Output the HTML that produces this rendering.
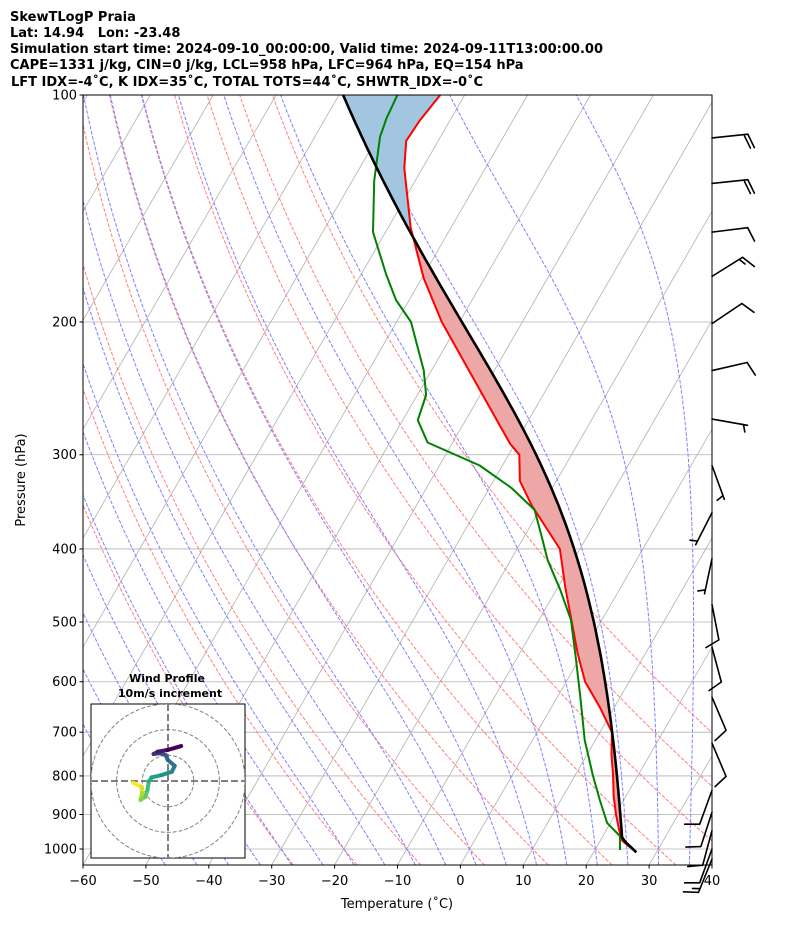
<!DOCTYPE html>
<html><head><meta charset="utf-8"><style>
body{margin:0;background:#fff;}
svg{display:block;font-family:"DejaVu Sans","Liberation Sans",sans-serif;}
.t{font-weight:bold;font-size:13px;white-space:pre;}
</style></head><body>
<svg id="c" width="794" height="937" viewBox="0 0 794 937" xmlns="http://www.w3.org/2000/svg">
<rect width="794" height="937" fill="#fff"/>
<g>
<text class="t" x="10" y="21">SkewTLogP Praia</text>
<text class="t" x="10" y="37">Lat: 14.94&#160;&#160;&#160;Lon: -23.48</text>
<text class="t" x="10" y="53">Simulation start time: 2024-09-10_00:00:00, Valid time: 2024-09-11T13:00:00.00</text>
<text class="t" x="10" y="69">CAPE=1331 j/kg, CIN=0 j/kg, LCL=958 hPa, LFC=964 hPa, EQ=154 hPa</text>
<text class="t" x="11" y="86">LFT IDX=-4˚C, K IDX=35˚C, TOTAL TOTS=44˚C, SHWTR_IDX=-0˚C</text>
</g>
<defs><clipPath id="pc"><rect x="83" y="95" width="629" height="770"/></clipPath>
<clipPath id="hc"><rect x="91" y="704" width="154" height="154"/></clipPath></defs>
<g id="grid" clip-path="url(#pc)"></g>
<g id="axes"></g>
<g id="barbs"></g>
<g id="hodo"></g>
<text x="25" y="480" font-size="13" text-anchor="middle" transform="rotate(-90 25 480)">Pressure (hPa)</text>
<text x="397" y="908" font-size="13" text-anchor="middle">Temperature (˚C)</text>
</svg>
<script>
// ---- data ----
const tempP = [1010,975,950,900,850,800,750,700,650,600,550,500,450,400,350,325,300,290,250,200,175,150,125,115,108,100];
const tempT = [26.8,23.5,22.3,20.1,18.0,16.1,13.9,11.9,7.8,3.0,-0.8,-4.6,-8.8,-13.2,-21.7,-25.8,-28.3,-30.8,-39.6,-52.8,-59.7,-66.4,-72.9,-75.1,-74.8,-73.9];
const dewP = [1003,961,924,861,798,717,635,562,497,453,414,389,355,332,310,289,270,250,232,200,187,173,152,130,113.7,107.3,100];
const dewT = [24.0,22.7,19.5,16.2,12.8,8.3,4.0,-0.4,-4.9,-9.4,-14.1,-16.8,-20.8,-26.5,-33.6,-44.0,-47.6,-48.6,-51.2,-57.7,-62.1,-66.0,-72.0,-76.5,-79.6,-80.3,-80.7];
const pressureTicks = [100,200,300,400,500,600,700,800,900,1000];
const tempTicks = [-60,-50,-40,-30,-20,-10,0,10,20,30,40];
const dryT0 = [-30,-20,-10,0,10,20,30,40,50,60];
const moistT0 = [-50,-45,-40,-35,-30,-25,-20,-15,-10,-5,0,5,10,15,20,25,30,35,40,45];
const barbP = [114,131,152,174,201,232,269,310,358,412,474,540,629,724,836,894,945,1000,1031];
const barbAng = [-6,-6,-7,-32,-34,-13,10,70,117,102,79,75,67,67,110,108,105,110,112];
const barbSpd = [20,20,10,15,10,10,5,5,5,5,10,10,10,10,10,10,10,10,15];
const hodoU = [-13.6,-10.4,-10.1,-10.7,-8.8,-8.0,-7.5,-6.4,-2.5,1.5,2.6,-0.1,-0.9,-3.3,-5.6,-4.0,-0.1,5.1];
const hodoV = [-0.7,-2.2,-4.7,-7.4,-6.1,-3.5,-0.3,1.4,2.3,3.6,5.9,8.2,10.1,10.8,10.5,11.4,12.1,13.6];

// ---- axes ----
const X0=83,X1=712,Y0=95,Y1=865,PX=6.29,SK=0.5774,DEC=754;
function Y(p){return Y0+DEC*Math.log10(p/100);}
function X(T,p){return X0+(T+60)*PX+SK*(Y1-Y(p));}
const NS='http://www.w3.org/2000/svg';
function mk(tag,attrs,parent){const e=document.createElementNS(NS,tag);for(const k in attrs)e.setAttribute(k,attrs[k]);parent.appendChild(e);return e;}
const grid=document.getElementById('grid'),axes=document.getElementById('axes');
function pts(arr){return arr.map(a=>a[0].toFixed(1)+','+a[1].toFixed(1)).join(' ');}
const pGrid=[];for(let lp=Math.log(1050);lp>=Math.log(100)-1e-9;lp-=(Math.log(1050)-Math.log(100))/120)pGrid.push(Math.exp(lp));

for(let T=-160;T<=40;T+=10){
  const l=mk('line',{x1:X(T,1050),y1:Y(1050),x2:X(T,100),y2:Y(100),stroke:'#b0b0b0','stroke-width':0.8},grid);
  
  
}
for(const p of pressureTicks){
  const l=mk('line',{x1:X0,y1:Y(p),x2:X1,y2:Y(p),stroke:'#b0b0b0','stroke-width':0.8},grid);
  
  
}
for(const t0 of dryT0){
  const th=t0+273.15;
  const a=pGrid.map(p=>[X(th*Math.pow(p/1000,0.2857)-273.15,p),Y(p)]);
  const l=mk('polyline',{points:pts(a),fill:'none',stroke:'#ff8080','stroke-width':1,'stroke-dasharray':'3.7,1.6'},grid);
  
  
}
const Rd=287.04,Cp=1005.7,Lv=2.501e6,EPS=0.622;
function dTdlnp(T,p){const es=6.112*Math.exp(17.67*(T-273.15)/(T-29.65));const rs=EPS*es/(p-es);return (Rd*T+Lv*rs)/(Cp+Lv*Lv*rs*EPS/(Rd*T*T));}
function moist(T0,p0,p1){const n=60;let T=T0,lp=Math.log(p0);const h=(Math.log(p1)-lp)/n;
  for(let i=0;i<n;i++){const k1=dTdlnp(T,Math.exp(lp)),k2=dTdlnp(T+h/2*k1,Math.exp(lp+h/2)),k3=dTdlnp(T+h/2*k2,Math.exp(lp+h/2)),k4=dTdlnp(T+h*k3,Math.exp(lp+h));T+=h/6*(k1+2*k2+2*k3+k4);lp+=h;}return T;}
for(const t0 of moistT0){
  const T0=t0+273.15;
  const a=pGrid.map(p=>[X(moist(T0,1000,p)-273.15,p),Y(p)]);
  const l=mk('polyline',{points:pts(a),fill:'none',stroke:'#8080ff','stroke-width':1,'stroke-dasharray':'3.7,1.6'},grid);
  
  
}
function interp(P,V,p){for(let i=0;i<P.length-1;i++){if(p<=P[i]&&p>=P[i+1]){const f=(Math.log(p)-Math.log(P[i]))/(Math.log(P[i+1])-Math.log(P[i]));return V[i]+f*(V[i+1]-V[i]);}}return p>P[0]?V[0]:V[V.length-1];}
const ps=tempP[0],Ts=tempT[0]+273.15,Tds=dewT[0]+273.15;
const Tl=1/(1/(Tds-56)+Math.log(Ts/Tds)/800)+56;
const pl=ps*Math.pow(Tl/Ts,1/0.2857);
function parcel(p){if(p>=pl)return Ts*Math.pow(p/ps,0.2857)-273.15;return moist(Tl,pl,p)-273.15;}
const pP=[];for(let lp=Math.log(ps);lp>=Math.log(100)-1e-9;lp-=(Math.log(ps)-Math.log(100))/150)pP.push(Math.exp(lp));
const parT=pP.map(parcel),envT=pP.map(p=>interp(tempP,tempT,p));
let seg=[];
function flush(sign){if(seg.length<2){seg=[];return;}
  const a=seg.map(i=>[X(parT[i],pP[i]),Y(pP[i])]).concat(seg.slice().reverse().map(i=>[X(envT[i],pP[i]),Y(pP[i])]));
  const f=mk('polygon',{points:pts(a),fill:sign>0?'#eea7a7':'#a3c6e0',stroke:'none'},grid);
  
  
  seg=[];}
let cur=0;
for(let i=0;i<pP.length;i++){if(pP[i]>pl)continue;const s=parT[i]>=envT[i]?1:-1;if(cur!==0&&s!==cur){seg.push(i);flush(cur);seg=[i-1];}cur=s;seg.push(i);}
flush(cur);
const tl=mk('polyline',{points:pts(tempP.map((p,i)=>[X(tempT[i],p),Y(p)])),fill:'none',stroke:'#ff0000','stroke-width':2,'stroke-linejoin':'round'},grid);


const dl=mk('polyline',{points:pts(dewP.map((p,i)=>[X(dewT[i],p),Y(p)])),fill:'none',stroke:'#008000','stroke-width':2,'stroke-linejoin':'round'},grid);


const pl2=mk('polyline',{points:pts(pP.map((p,i)=>[X(parT[i],p),Y(p)])),fill:'none',stroke:'#000','stroke-width':2.6},grid);


const fr=mk('rect',{x:X0,y:Y0,width:X1-X0,height:Y1-Y0,fill:'none',stroke:'#000','stroke-width':1},axes);


for(const p of pressureTicks){const y=Y(p);
  mk('line',{x1:X0-3.5,y1:y,x2:X0,y2:y,stroke:'#000'},axes);
  const t=mk('text',{x:X0-6,y:y+4.5,'font-size':13,'text-anchor':'end'},axes);t.textContent=p;
  
  }
for(const T of tempTicks){const x=X0+(T+60)*PX;
  mk('line',{x1:x,y1:Y1,x2:x,y2:Y1+3.5,stroke:'#000'},axes);
  const t=mk('text',{x:x,y:Y1+20,'font-size':13,'text-anchor':'middle'},axes);t.textContent=String(T).replace('-','\u2212');
  
  }
const bg=document.getElementById('barbs');const BL=36;
barbP.forEach((p,i)=>{
  const bx=712,by=Y(p),a=barbAng[i]*Math.PI/180,dx=Math.cos(a),dy=Math.sin(a);
  const tx=bx+BL*dx,ty=by+BL*dy;let d=`M${bx},${by}L${tx},${ty}`;
  const fa=a+70*Math.PI/180,fx=Math.cos(fa),fy=Math.sin(fa);
  let s=barbSpd[i],k=0;const nf=Math.floor(s/10),nh=(s%10)>=5?1:0;
  if(nf===0)k=1;
  for(let j=0;j<nf;j++,k++){const ox=tx-dx*4*k,oy=ty-dy*4*k;d+=`M${ox},${oy}l${fx*15},${fy*15}`;}
  for(let j=0;j<nh;j++,k++){const ox=tx-dx*4*k,oy=ty-dy*4*k;d+=`M${ox},${oy}l${fx*7.5},${fy*7.5}`;}
  const b=mk('path',{d:d,fill:'none',stroke:'#000','stroke-width':1.6,'stroke-linecap':'round'},bg);
  
  
});
const hg=document.getElementById('hodo');const HC=[168,781],HS=2.57;
let t1=mk('text',{x:167,y:682,'font-size':11,'font-weight':'bold','text-anchor':'middle'},hg);t1.textContent='Wind Profile';


let t2=mk('text',{x:170,y:697,'font-size':11,'font-weight':'bold','text-anchor':'middle'},hg);t2.textContent='10m/s increment';


const hb=mk('rect',{x:91,y:704,width:154,height:154,fill:'#fff',stroke:'#000','stroke-width':1},hg);


const hin=mk('g',{'clip-path':'url(#hc)'},hg);
for(const r of [10,20,30]){const c=mk('circle',{cx:HC[0],cy:HC[1],r:r*HS,fill:'none',stroke:'#808080','stroke-width':1,'stroke-dasharray':'4,2'},hin);
  
  }
mk('line',{x1:91,y1:HC[1],x2:245,y2:HC[1],stroke:'#808080','stroke-width':2,'stroke-dasharray':'7,3'},hin);
mk('line',{x1:HC[0],y1:704,x2:HC[0],y2:858,stroke:'#808080','stroke-width':2,'stroke-dasharray':'7,3'},hin);
const vir=[[253,231,37],[181,222,43],[110,206,88],[53,183,121],[31,158,137],[38,130,142],[49,104,142],[62,74,137],[72,40,120],[68,1,84]];
function vcol(f){const x=f*(vir.length-1),i=Math.min(Math.floor(x),vir.length-2),g=x-i;return 'rgb('+vir[i].map((c,j)=>Math.round(c+g*(vir[i+1][j]-c))).join(',')+')';}
for(let i=0;i<hodoU.length-1;i++){
  const s=mk('line',{x1:HC[0]+hodoU[i]*HS,y1:HC[1]-hodoV[i]*HS,x2:HC[0]+hodoU[i+1]*HS,y2:HC[1]-hodoV[i+1]*HS,stroke:vcol(i/(hodoU.length-2)),'stroke-width':4,'stroke-linecap':'round'},hin);
  
  
}
</script>
</body></html>
